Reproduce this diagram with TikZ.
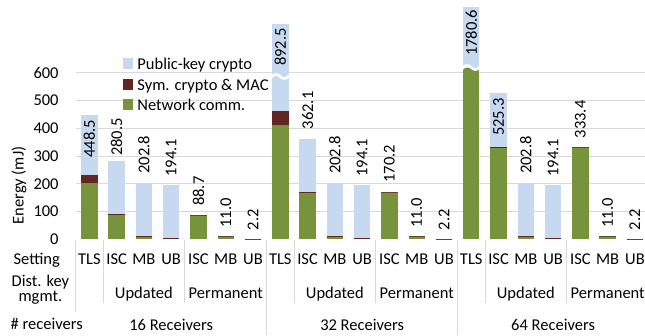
\documentclass[tikz,border=0pt]{standalone}
\usepackage{fontspec}
\setmainfont{Carlito}
\definecolor{cblue}{RGB}{198,217,240}
\definecolor{cred}{RGB}{99,37,35}
\definecolor{cgreen}{RGB}{119,147,60}
\definecolor{cgrid}{RGB}{217,217,217}
\newcommand{\slotx}[1]{75.7+27.28*(#1+0.5)}
\newcommand{\drawbar}[4]{%
  \pgfmathsetmacro{\cx}{75.7+27.28*(#1+0.5)}%
  \fill[cgreen] ({\cx-8.2},239.3) rectangle ({\cx+8.2},{239.3-0.2777*(#2)});
  \fill[cred] ({\cx-8.2},{239.3-0.2777*(#2)}) rectangle ({\cx+8.2},{239.3-0.2777*(#2+#3)});
  \fill[cblue] ({\cx-8.2},{239.3-0.2777*(#2+#3)}) rectangle ({\cx+8.2},{239.3-0.2777*(#4)});
}
\begin{document}
\begin{tikzpicture}[x=1pt,y=-1pt,
  every node/.style={inner sep=0pt, font=\fontsize{16.5}{19}\selectfont},
  dlabel/.style={rotate=90, anchor=west},
  gridline/.style={draw=cgrid, line width=0.8pt},
  sepline/.style={draw=cgrid, line width=0.8pt},
  wave/.style={draw=white, line width=2.6pt}]
\useasboundingbox (0,0) rectangle (645,335);
% gridlines
\foreach \k in {1,...,6}
  \draw[gridline] (76,{239.3-27.77*\k}) -- (645,{239.3-27.77*\k});
% tick labels
\foreach \k/\v in {0/0,1/100,2/200,3/300,4/400,5/500,6/600}
  \node[anchor=east] (tick\k) at (58.8,{239.3-27.77*\k}) {\v};
% axis title
\node[rotate=90] (ytitle) at (19,185.5) {Energy (mJ)};
% bars: slot, green, red, total
\drawbar{0}{204}{27.5}{448.5}
\drawbar{1}{88.5}{1.5}{280.5}
\drawbar{2}{9}{1.5}{202.8}
\drawbar{3}{3.5}{1}{194.1}
\drawbar{4}{85.5}{3.2}{88.7}
\drawbar{5}{8}{3}{11.0}
\drawbar{6}{0.7}{1.5}{2.2}
\drawbar{7}{411}{50.5}{775.3}
\drawbar{8}{168}{2}{362.1}
\drawbar{9}{9}{1.5}{202.8}
\drawbar{10}{3.5}{1}{194.1}
\drawbar{11}{167.5}{2.7}{170.2}
\drawbar{12}{8}{3}{11.0}
\drawbar{13}{0.7}{1.5}{2.2}
\drawbar{14}{617}{0}{836.5}
\drawbar{15}{330.5}{3}{525.3}
\drawbar{16}{9}{1.5}{202.8}
\drawbar{17}{3.5}{1}{194.1}
\drawbar{18}{330.5}{2.9}{333.4}
\drawbar{19}{8}{3}{11.0}
\drawbar{20}{0.7}{1.5}{2.2}
% axis breaks
\draw[wave] (271.5,77.5) .. controls (275,73) and (277,74) .. (280.3,76.5) .. controls (283.5,79) and (285.5,80) .. (289,75.5);
\draw[wave] (462.5,68.5) .. controls (466,64) and (468,65) .. (471.3,67.5) .. controls (474.5,70) and (476.5,71) .. (480,66.5);
% data labels
\foreach \s/\lab/\yb in {0/448.5/156.7, 1/280.5/155, 2/202.8/172.7, 3/194.1/175.8, 4/88.7/205, 5/11.0/226.7, 6/2.2/229.3,
  7/892.5/65, 8/362.1/128.3, 9/202.8/173, 10/194.1/175.8, 11/170.2/181.7, 12/11.0/226.7, 13/2.2/229.3,
  14/1780.6/55, 15/525.3/135, 16/202.8/173, 17/194.1/175.8, 18/333.4/137.3, 19/11.0/226.7, 20/2.2/229.3}
  \node[dlabel] (lab\s) at ({\slotx{\s}},{\yb+1}) {\lab};
% legend
\fill[cblue] (122.7,58) rectangle (133.3,68.5);
\fill[cred] (122.7,79) rectangle (133.3,89.5);
\fill[cgreen] (122.7,99) rectangle (133.3,109.5);
\node[anchor=base west] (leg1) at (137.2,69) {Public-key crypto};
\node[anchor=base west] (leg2) at (137.2,90) {Sym. crypto \& MAC};
\node[anchor=base west] (leg3) at (137.2,110) {Network comm.};
% category separators
\draw[sepline] (75.5,240) -- (75.5,312);
\foreach \x in {266.7,457.6} \draw[sepline] (\x,240) -- (\x,335);
\foreach \k in {1,4,8,11,15,18} \draw[sepline] ({75.7+27.28*\k},240) -- ({75.7+27.28*\k},303);
% row headers
\node[anchor=base] (hset) at (36.7,264.5) {Setting};
\node[anchor=base] (hdist) at (40.4,286.6) {\renewcommand{\arraystretch}{0.7}\begin{tabular}[t]{@{}c@{}}Dist. key\\mgmt.\end{tabular}};
\node[anchor=base] (hrec) at (46.7,329) {\# receivers};
% setting labels
\foreach \s/\lab in {0/TLS,1/ISC,2/MB,3/UB,4/ISC,5/MB,6/UB,7/TLS,8/ISC,9/MB,10/UB,11/ISC,12/MB,13/UB,14/TLS,15/ISC,16/MB,17/UB,18/ISC,19/MB,20/UB}
  \node[anchor=base] (set\s) at ({\slotx{\s}},264.5) {\lab};
% key management labels
\foreach \s/\lab/\n in {2/Updated/u1,5/Permanent/p1,9/Updated/u2,12/Permanent/p2,16/Updated/u3,19/Permanent/p3}
  \node[anchor=base] (\n) at ({\slotx{\s}},298.5) {\lab};
% receivers
\foreach \s/\lab/\n in {3/16 Receivers/r1,10/32 Receivers/r2,17/64 Receivers/r3}
  \node[anchor=base] (\n) at ({\slotx{\s}},330) {\lab};
\end{tikzpicture}
\end{document}
